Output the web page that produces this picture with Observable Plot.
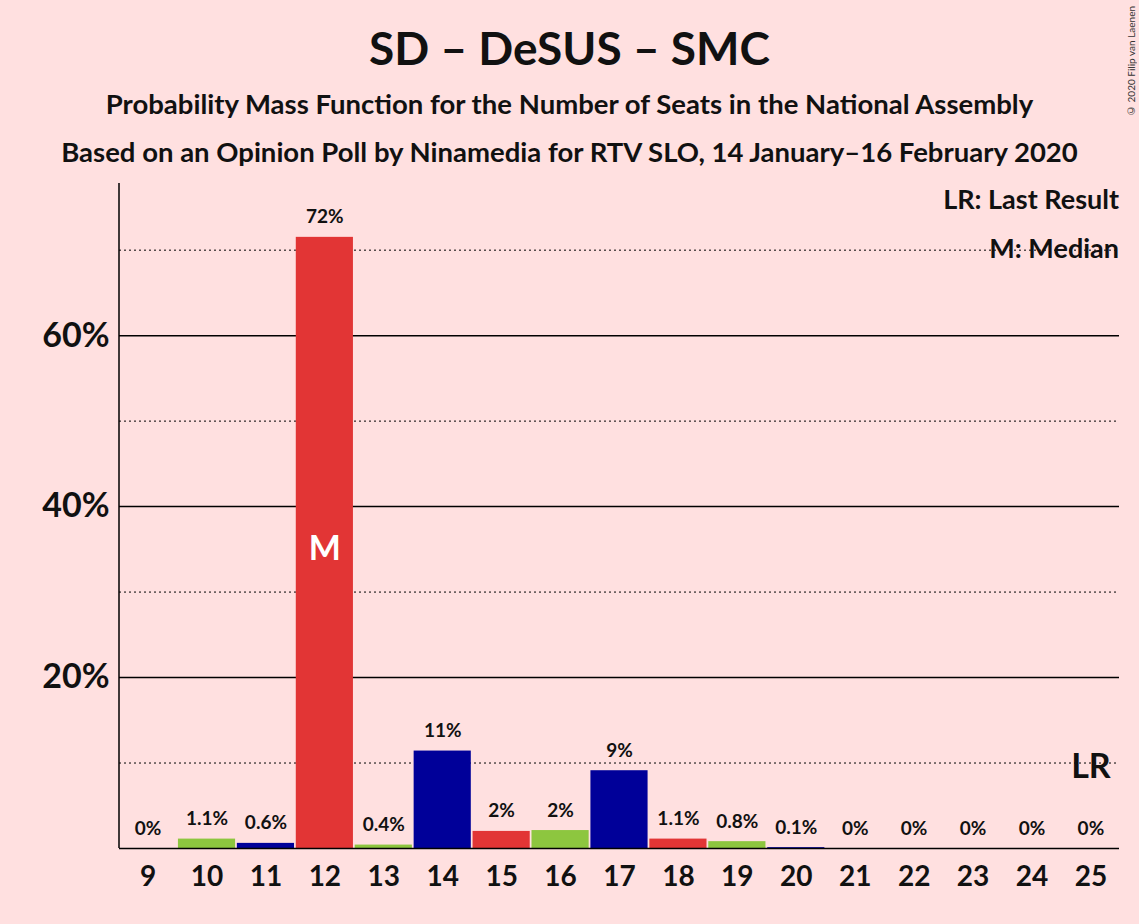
<!DOCTYPE html>
<html><head><meta charset="utf-8">
<script src="https://cdn.jsdelivr.net/npm/d3@7"></script>
<script src="https://cdn.jsdelivr.net/npm/@observablehq/plot@0.6"></script>
<style>
body{margin:0;background:#FFE0E0;font-family:Lato,sans-serif;}
#wrap{position:relative;width:1139px;height:924px;}
.t{position:absolute;left:0;width:1139px;text-align:center;font-weight:bold;color:#111;}
#copy{position:absolute;right:2px;top:6px;font-size:10px;writing-mode:vertical-rl;transform:rotate(180deg);color:#333;}
</style></head><body>
<div id="wrap">
<div class="t" style="top:20px;font-size:46px">SD – DeSUS – SMC</div>
<div class="t" style="top:87px;font-size:27.5px">Probability Mass Function for the Number of Seats in the National Assembly</div>
<div class="t" style="top:135px;font-size:27.5px">Based on an Opinion Poll by Ninamedia for RTV SLO, 14 January–16 February 2020</div>
<div id="copy">© 2020 Filip van Laenen</div>
<div id="chart"></div>
</div>
<script>
const seats = [9,10,11,12,13,14,15,16,17,18,19,20,21,22,23,24,25];
const probs = [0,1.1,0.6,71.5,0.4,11.4,2.0,2.1,9.1,1.1,0.8,0.1,0,0,0,0,0];
const labels = ["0%","1.1%","0.6%","72%","0.4%","11%","2%","2%","9%","1.1%","0.8%","0.1%","0%","0%","0%","0%","0%"];
const palette = ["#E23535","#8DC63F","#000099"];
const data = seats.map((s,i)=>({seat:s,p:probs[i],label:labels[i],color:palette[(s-9)%3]}));
const chart = Plot.plot({
  width:1139, height:924,
  marginTop:183, marginBottom:76, marginLeft:119, marginRight:20,
  style:{background:"transparent",fontFamily:"Lato, sans-serif",fontWeight:"bold",color:"#111"},
  x:{domain:seats, paddingInner:0.03, paddingOuter:0, round:false, label:null},
  y:{domain:[0,77.8], label:null},
  marks:[
    Plot.ruleY([10,30,50,70],{strokeDasharray:"2,3",stroke:"#000",strokeWidth:1}),
    Plot.ruleY([20,40,60],{stroke:"#000",strokeWidth:1.5}),
    Plot.barY(data,{x:"seat",y:"p",fill:"color"}),
    Plot.text(data,{x:"seat",y:"p",text:"label",dy:-20,fontSize:19,fill:"#111"}),
    Plot.text(["M"],{x:()=>12,y:()=>35,text:d=>d,fill:"white",fontSize:34}),
    Plot.text(["LR"],{x:()=>25,y:()=>9.5,text:d=>d,fontSize:34,fill:"#111"}),
    Plot.axisY([20,40,60],{tickFormat:d=>d+"%",tickSize:0,tickPadding:10,fontSize:34,label:null}),
    Plot.axisX({tickSize:0,tickPadding:18,fontSize:28,label:null}),
    Plot.ruleY([0],{stroke:"#000",strokeWidth:1.5})
  ]
});
document.getElementById("chart").appendChild(chart);
const svg = d3.select(chart);
svg.append("text").attr("x",1119).attr("y",209).attr("text-anchor","end").attr("font-size",27).attr("font-weight","bold").attr("fill","#111").text("LR: Last Result");
svg.append("text").attr("x",1119).attr("y",258).attr("text-anchor","end").attr("font-size",27).attr("font-weight","bold").attr("fill","#111").text("M: Median");
svg.append("line").attr("x1",119).attr("x2",119).attr("y1",183).attr("y2",848).attr("stroke","#000").attr("stroke-width",1.5);
</script>
</body></html>
